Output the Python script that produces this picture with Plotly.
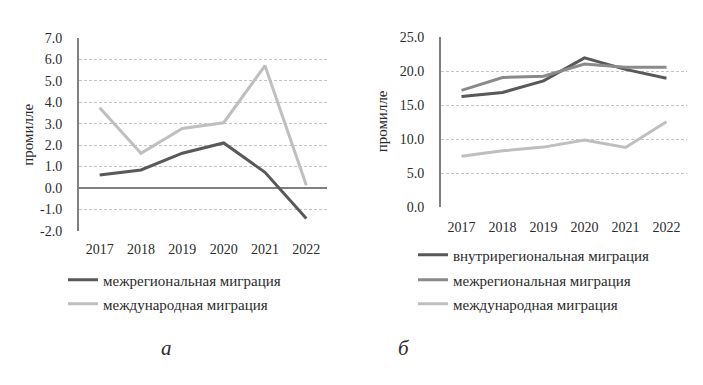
import plotly.graph_objects as go

years = ["2017", "2018", "2019", "2020", "2021", "2022"]

# Panel а
a_interregional = [0.6, 0.84, 1.62, 2.1, 0.73, -1.42]
a_international = [3.74, 1.62, 2.77, 3.04, 5.7, 0.13]

# Panel б
b_intraregional = [16.3, 16.9, 18.6, 22.0, 20.3, 19.0]
b_interregional = [17.2, 19.1, 19.3, 21.1, 20.6, 20.6]
b_international = [7.5, 8.3, 8.85, 9.9, 8.8, 12.6]

a_ticks = [-2, -1, 0, 1, 2, 3, 4, 5, 6, 7]
b_ticks = [0, 5, 10, 15, 20, 25]

name_intra = "внутрирегиональная миграция"
name_inter = "межрегиональная миграция"
name_intl = "международная миграция"
ytitle = "промилле"

C_DARK = "#595959"
C_MID = "#8a8a8a"
C_LIGHT = "#bfbfbf"
FONT = "Liberation Serif"
TXT = "#2b2b2b"

W, H = 703, 385

fig = go.Figure()

fig.add_trace(go.Scatter(x=years, y=a_interregional, mode="lines", name=name_inter,
                         line=dict(color=C_DARK, width=3), xaxis="x", yaxis="y", legend="legend"))
fig.add_trace(go.Scatter(x=years, y=a_international, mode="lines", name=name_intl,
                         line=dict(color=C_LIGHT, width=3), xaxis="x", yaxis="y", legend="legend2"))

fig.add_trace(go.Scatter(x=years, y=b_intraregional, mode="lines", name=name_intra,
                         line=dict(color=C_DARK, width=3), xaxis="x2", yaxis="y2", legend="legend3"))
fig.add_trace(go.Scatter(x=years, y=b_interregional, mode="lines", name=name_inter,
                         line=dict(color=C_MID, width=3), xaxis="x2", yaxis="y2", legend="legend4"))
fig.add_trace(go.Scatter(x=years, y=b_international, mode="lines", name=name_intl,
                         line=dict(color=C_LIGHT, width=3), xaxis="x2", yaxis="y2", legend="legend5"))

def px(x):
    return x / W

def py(y):
    return 1 - y / H

def fmt(v):
    return f"{v:.1f}"

xcommon = dict(type="category", range=[-0.5, 5.5], showgrid=False, showline=False,
               zeroline=False, ticks="", tickfont=dict(family=FONT, size=14, color=TXT),
               fixedrange=True)
ycommon = dict(showgrid=True, gridcolor="#c4c4c4", griddash="3px,2px", gridwidth=1,
               showline=True, linecolor="#808080", linewidth=2, ticks="",
               tickfont=dict(family=FONT, size=14, color=TXT),
               ticklabelstandoff=12, fixedrange=True)

legcommon = dict(font=dict(family=FONT, size=15, color=TXT), bgcolor="rgba(0,0,0,0)",
                 xanchor="left", yanchor="middle", itemclick=False, itemdoubleclick=False,
                 borderwidth=0, itemwidth=30)

ann = dict(xref="paper", yref="paper", showarrow=False, xanchor="center", yanchor="middle")

fig.update_layout(
    width=W, height=H,
    margin=dict(l=0, r=0, t=0, b=0),
    paper_bgcolor="white", plot_bgcolor="white",
    xaxis=dict(domain=[px(79), px(327)], anchor="y", ticklabelstandoff=8, **xcommon),
    yaxis=dict(domain=[py(233), py(32)], anchor="x", range=[-2, 7], tickvals=a_ticks,
               ticktext=[fmt(v) for v in a_ticks],
               zeroline=True, zerolinecolor="#808080", zerolinewidth=1.5, **ycommon),
    xaxis2=dict(domain=[px(441), px(687)], anchor="y2", ticklabelstandoff=10, **xcommon),
    yaxis2=dict(domain=[py(208.3), py(31.7)], anchor="x2", range=[0, 25], tickvals=b_ticks,
                ticktext=[fmt(v) for v in b_ticks], zeroline=False, **ycommon),
    legend=dict(x=px(63), y=py(284), **legcommon),
    legend2=dict(x=px(63), y=py(309), **legcommon),
    legend3=dict(x=px(413), y=py(258), **legcommon),
    legend4=dict(x=px(413), y=py(284), **legcommon),
    legend5=dict(x=px(413), y=py(309), **legcommon),
    showlegend=True,
    annotations=[
        dict(text=ytitle, x=px(28), y=py(133), textangle=-90,
             font=dict(family=FONT, size=15, color=TXT), **ann),
        dict(text=ytitle, x=px(382), y=py(119), textangle=-90,
             font=dict(family=FONT, size=15, color=TXT), **ann),
        dict(text="<i>а</i>", x=px(166), y=py(355), font=dict(family=FONT, size=21, color=TXT), **ann),
        dict(text="<i>б</i>", x=px(404), y=py(355), font=dict(family=FONT, size=21, color=TXT), **ann),
    ],
)

fig.write_html("out.html", config={"displayModeBar": False},
               post_script="document.body.style.margin='0';document.body.style.overflow='hidden';")
